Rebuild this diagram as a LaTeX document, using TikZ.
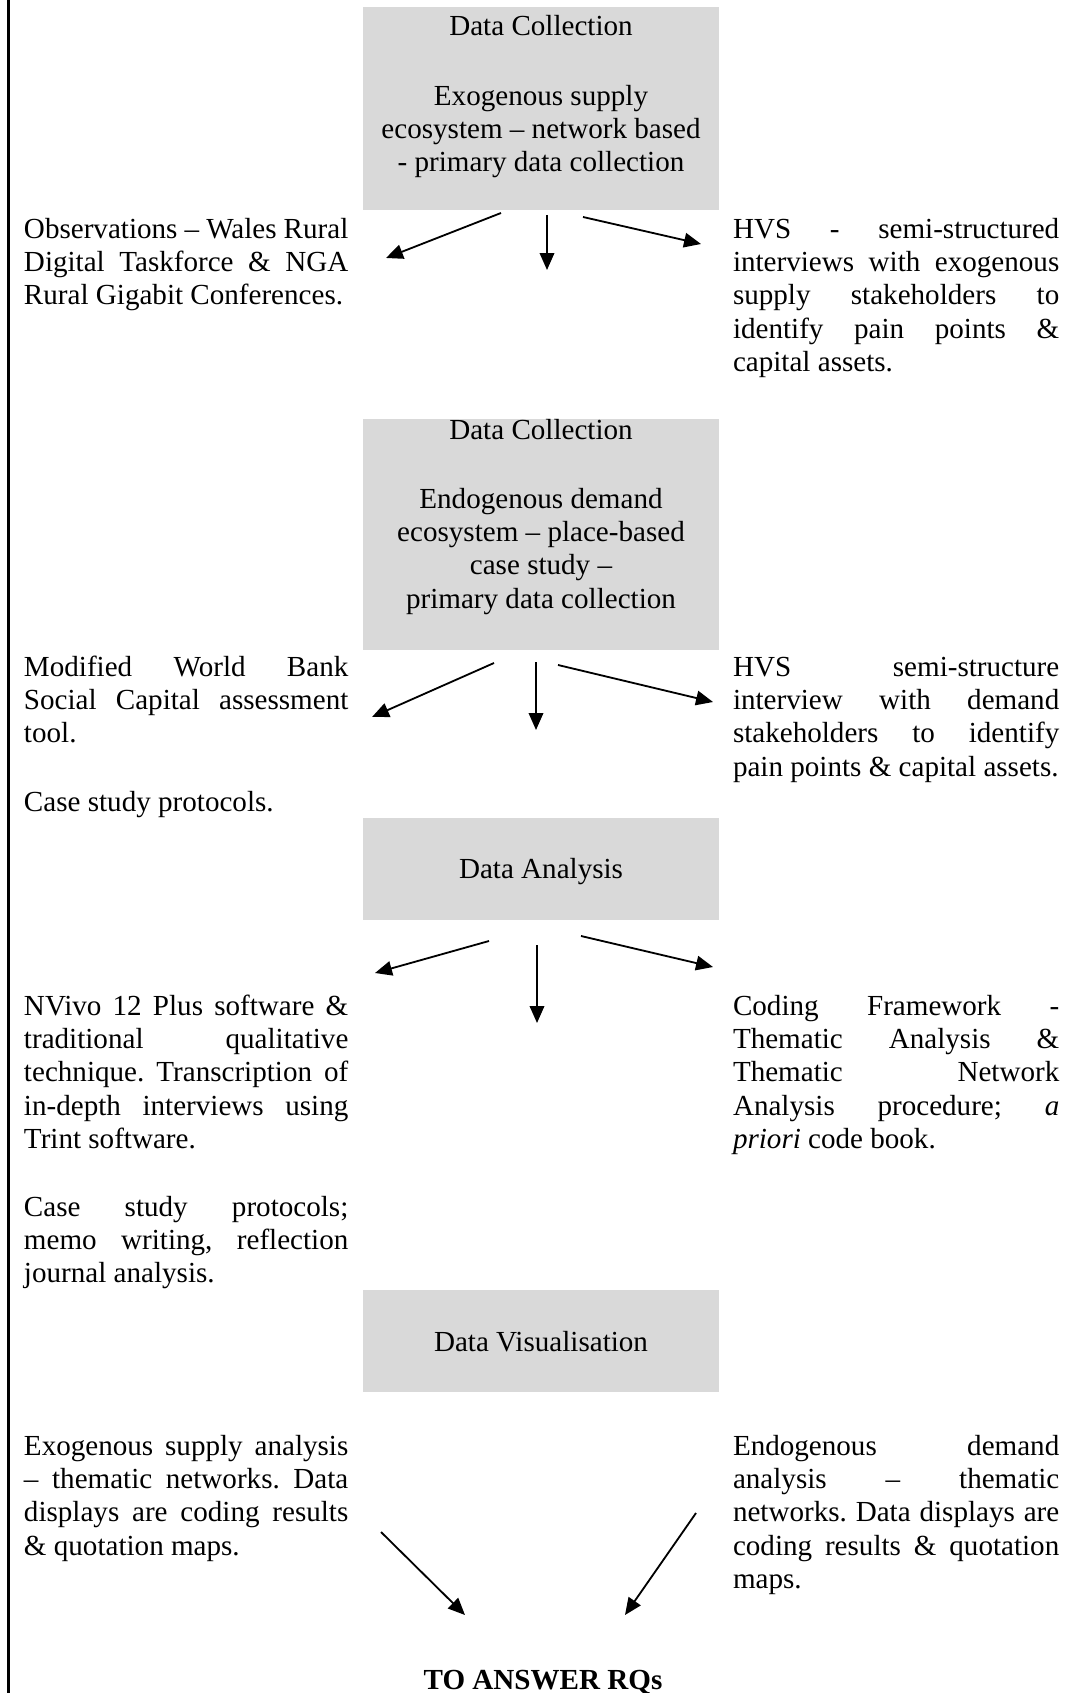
\documentclass[tikz,border=0pt]{standalone}
\usepackage{fontspec}
\setmainfont{Liberation Serif}
\usetikzlibrary{arrows.meta}
\definecolor{cellgray}{HTML}{D9D9D9}
\frenchspacing
% widths of the justified side columns
\newlength\leftw
\setlength\leftw{133.8pt}
\newlength\rightw
\setlength\rightw{134.6pt}
\newlength\colw
% a justified line (spaces share the spare width) and a final, ragged line
\newcommand\jl[1]{\leavevmode\hbox to\colw{\spaceskip=.25em plus 1fil minus .12em\strut #1}}
\newcommand\fl[1]{\leavevmode\hbox to\colw{\spaceskip=.25em minus .12em\strut #1\hfil}}
\begin{document}
\begin{tikzpicture}[x=0.4125pt, y=-0.4125pt,
  every node/.style={inner sep=0pt, outer sep=0pt, font=\fontsize{12pt}{13.8pt}\selectfont},
  cell/.style={fill=cellgray, minimum width=146.85pt},
  leftcol/.style={anchor=north west, text width=\leftw, align=left, execute at begin node={\setlength\colw{\leftw}}},
  rightcol/.style={anchor=north west, text width=\rightw, align=left, execute at begin node={\setlength\colw{\rightw}}},
  title/.style={anchor=north, align=center},
  flow/.style={-{Triangle[length=7pt,width=6pt]}, line width=0.75pt},
  rail/.style={line width=1pt}]
\useasboundingbox (0,0) rectangle (1071,1693);

% left margin rule
\coordinate (railtop) at (8.7,0);
\coordinate (railbot) at (8.7,1693);
\draw[rail] (railtop) -- (railbot);

% grey stage cells
\node[cell, minimum height=83.74pt] (box1) at (541,108.5) {};
\node[cell, minimum height=95.29pt] (box2) at (541,534.5) {};
\node[cell, minimum height=42.08pt] (box3) at (541,869) {};
\node[cell, minimum height=42.08pt] (box4) at (541,1341) {};

% stage 1: supply data collection
\node[title] (box1title) at (541,11.6) {\strut Data Collection};
\node[title] (box1body) at (541,81.6) {\strut Exogenous supply\\ ecosystem – network based\\ - primary data collection};
\node[leftcol] (left1) at (24,214.6) {\jl{Observations – Wales Rural}\\ \jl{Digital Taskforce \& NGA}\\ \fl{Rural Gigabit Conferences.}};
\node[rightcol] (right1) at (733,214.6) {\jl{HVS - semi-structured}\\ \jl{interviews with exogenous}\\ \jl{supply stakeholders to}\\ \jl{identify pain points \&}\\ \fl{capital assets.}};

% stage 2: demand data collection
\node[title] (box2title) at (541,415.6) {\strut Data Collection};
\node[title] (box2body) at (541,484.6) {\strut Endogenous demand\\ ecosystem – place-based\\ case study –\\ primary data collection};
\node[leftcol] (left2) at (24,652.6) {\jl{Modified World Bank}\\ \jl{Social Capital assessment}\\ \fl{tool.}};
\node[leftcol] (left2b) at (24,787.6) {\fl{Case study protocols.}};
\node[rightcol] (right2) at (733,652.6) {\jl{HVS semi-structure}\\ \jl{interview with demand}\\ \jl{stakeholders to identify}\\ \fl{pain points \& capital assets.}};

% stage 3: analysis
\node[title] (box3title) at (541,854.6) {\strut Data Analysis};
\node[leftcol] (left3) at (24,991.6) {\jl{NVivo 12 Plus software \&}\\ \jl{traditional qualitative}\\ \jl{technique. Transcription of}\\ \jl{in-depth interviews using}\\ \fl{Trint software.}};
\node[leftcol] (left3b) at (24,1192.6) {\jl{Case study protocols;}\\ \jl{memo writing, reflection}\\ \fl{journal analysis.}};
\node[rightcol] (right3) at (733,991.6) {\jl{Coding Framework -}\\ \jl{Thematic Analysis \&}\\ \jl{Thematic Network}\\ \jl{Analysis procedure; \textit{a}}\\ \fl{\textit{priori} code book.}};

% stage 4: visualisation
\node[title] (box4title) at (541,1327.6) {\strut Data Visualisation};
\node[leftcol] (left4) at (24,1431.6) {\jl{Exogenous supply analysis}\\ \jl{– thematic networks. Data}\\ \jl{displays are coding results}\\ \fl{\& quotation maps.}};
\node[rightcol] (right4) at (733,1431.6) {\jl{Endogenous demand}\\ \jl{analysis – thematic}\\ \jl{networks. Data displays are}\\ \jl{coding results \& quotation}\\ \fl{maps.}};

\node[anchor=north, font=\fontsize{12pt}{13.8pt}\selectfont\bfseries] (rq) at (543,1665.6) {\strut TO ANSWER RQs};

% arrow end points
\coordinate (a1ls) at (501,213);  \coordinate (a1le) at (386,258);
\coordinate (a1ms) at (547,215);  \coordinate (a1me) at (547,270);
\coordinate (a1rs) at (583,217);  \coordinate (a1re) at (701,244);
\coordinate (a2ls) at (494,663);  \coordinate (a2le) at (372,717);
\coordinate (a2ms) at (536,662);  \coordinate (a2me) at (536,730);
\coordinate (a2rs) at (558,665);  \coordinate (a2re) at (713,702);
\coordinate (a3ls) at (489,941);  \coordinate (a3le) at (375,973);
\coordinate (a3ms) at (537,945);  \coordinate (a3me) at (537,1023);
\coordinate (a3rs) at (581,936);  \coordinate (a3re) at (713,967);
\coordinate (a4ls) at (381,1532); \coordinate (a4le) at (465,1615);
\coordinate (a4rs) at (696,1513); \coordinate (a4re) at (625,1615);

\draw[flow] (a1ls) -- (a1le);
\draw[flow] (a1ms) -- (a1me);
\draw[flow] (a1rs) -- (a1re);
\draw[flow] (a2ls) -- (a2le);
\draw[flow] (a2ms) -- (a2me);
\draw[flow] (a2rs) -- (a2re);
\draw[flow] (a3ls) -- (a3le);
\draw[flow] (a3ms) -- (a3me);
\draw[flow] (a3rs) -- (a3re);
\draw[flow] (a4ls) -- (a4le);
\draw[flow] (a4rs) -- (a4re);
\end{tikzpicture}
\end{document}
